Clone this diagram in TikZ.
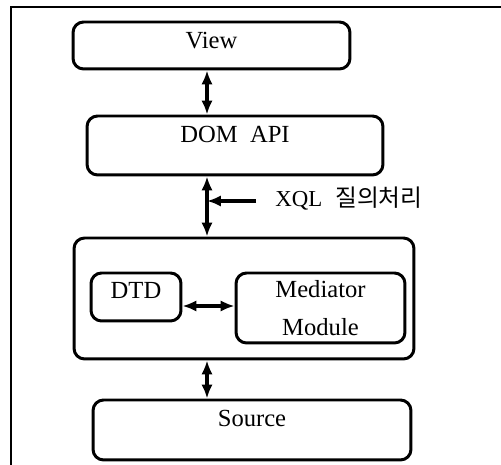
\documentclass[tikz,border=0pt]{standalone}
\usepackage{fontspec}
\setmainfont{Liberation Serif}
\newfontfamily\kofont{Noto Sans CJK KR}
\usetikzlibrary{arrows.meta,positioning}
\tikzset{
box/.style={
  draw,
  rectangle,
  rounded corners=6pt,
  line width=1.7pt,
  inner sep=0pt,
  text height=9.3pt,
  font=\fontsize{14}{16}\selectfont,
},
frame/.style={line width=0.8pt},
pil/.style={
  {Latex[length=2.8mm,width=2.3mm]}-{Latex[length=2.8mm,width=2.3mm]},
  line width=1.9pt,
},
pilone/.style={
  -{Latex[length=2.8mm,width=2.3mm]},
  line width=1.9pt,
},
}

\begin{document}
\begin{tikzpicture}[x=0.02cm,y=-0.02cm]
\useasboundingbox (0,0) rectangle (501,465);
\draw[frame] (11,465) -- (11,7) -- (501,7);

\node[box,minimum width=5.54cm,minimum height=0.94cm,text depth=0.2cm] (view) at (211.5,45.5) {View};
\node[box,minimum width=5.92cm,minimum height=1.18cm,text depth=0.43cm] (dom) at (235,145.5) {DOM\ \ API};
\node[box,minimum width=6.8cm,minimum height=2.42cm] (core) at (244,298.5) {};
\node[box,minimum width=1.8cm,minimum height=0.96cm,text depth=0.28cm] (dtd) at (136,297) {DTD};
\node[box,minimum width=3.38cm,minimum height=1.4cm,text height={},text depth={},align=center,
  font=\fontsize{14}{21.4}\selectfont] (med) at (320.5,308) {Mediator\\Module};
\node[box,minimum width=6.36cm,minimum height=1.2cm,text depth=0.46cm] (src) at (252,430) {Source};

\coordinate (axis) at (207,0);
\coordinate (qtail) at (256,201);
\node[anchor=base west,inner sep=0pt,font=\fontsize{13}{15}\selectfont] (xql) at (275,206.5)
  {XQL\hspace{0.26cm}{\kofont\fontsize{13.5}{15}\selectfont 질의처리}};

\path (view.south -| axis) edge[pil] (dom.north -| axis)
  (dom.south -| axis) edge[pil] (core.north -| axis)
  (core.south -| axis) edge[pil] (src.north -| axis)
  ([yshift=-0.18cm]dtd.east) edge[pil] ([yshift=-0.18cm]dtd.east -| med.west)
  (qtail) edge[pilone] (qtail -| axis)
;
\end{tikzpicture}
\end{document}
